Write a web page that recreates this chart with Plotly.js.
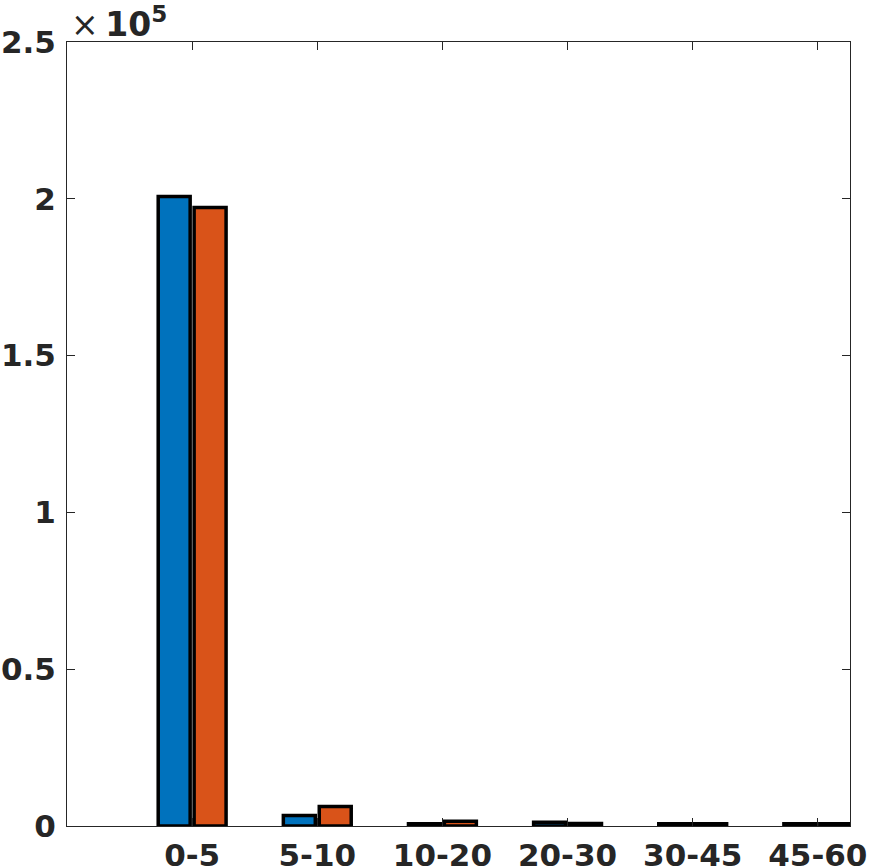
<!DOCTYPE html>
<html>
<head>
<meta charset="utf-8">
<script src="https://cdn.plot.ly/plotly-3.0.1.min.js"></script>
<style>html,body{margin:0;padding:0;background:#fff;}#chart{width:870px;height:867px;}</style>
</head>
<body>
<div id="chart"></div>
<script>
const categories = ['0-5', '5-10', '10-20', '20-30', '30-45', '45-60'];
const positions = [1, 2, 3, 4, 5, 6];
const seriesA = [200700, 3350, 700, 1200, 700, 700];
const seriesB = [197200, 6200, 1500, 800, 700, 700];
const yTickVals = [0, 50000, 100000, 150000, 200000, 250000];
const yTickText = ['0', '0.5', '1', '1.5', '2', '2.5'];

const lineStyle = {color: '#000000', width: 3.5};
const traces = [
  {type: 'bar', x: positions, y: seriesA, marker: {color: '#0072BD', line: lineStyle}, showlegend: false, hoverinfo: 'none', cliponaxis: true},
  {type: 'bar', x: positions, y: seriesB, marker: {color: '#D95319', line: lineStyle}, showlegend: false, hoverinfo: 'none', cliponaxis: true}
];

const tickFont = {family: 'DejaVu Sans', size: 31, color: '#262626', weight: 'bold'};
const layout = {
  width: 870, height: 867,
  margin: {l: 67, r: 20, t: 42, b: 41},
  paper_bgcolor: '#ffffff', plot_bgcolor: '#ffffff',
  barmode: 'group', bargap: 0.426, bargroupgap: 0.11,
  font: tickFont,
  xaxis: {
    range: [0, 6.257], tickvals: positions, ticktext: categories,
    ticks: 'inside', ticklen: 8, tickwidth: 1, tickcolor: '#262626',
    showline: true, linecolor: '#262626', linewidth: 1, mirror: 'ticks',
    showgrid: false, zeroline: false, tickfont: tickFont, ticklabelstandoff: 2
  },
  yaxis: {
    range: [0, 250000], tickvals: yTickVals, ticktext: yTickText,
    ticks: 'inside', ticklen: 8, tickwidth: 1, tickcolor: '#262626',
    showline: true, linecolor: '#262626', linewidth: 1, mirror: 'ticks',
    showgrid: false, zeroline: false, tickfont: tickFont, ticklabelstandoff: 4
  },
  annotations: [{
    xref: 'paper', yref: 'paper', x: 0, y: 1, xanchor: 'left', yanchor: 'bottom',
    xshift: 2, yshift: -4, showarrow: false,
    text: '<span style="font-weight:normal">×</span>\u200910<sup>5</sup>',
    font: {family: 'DejaVu Sans', size: 33, color: '#262626', weight: 'bold'}
  }]
};
Plotly.newPlot('chart', traces, layout, {staticPlot: true, displayModeBar: false});
</script>
</body>
</html>
